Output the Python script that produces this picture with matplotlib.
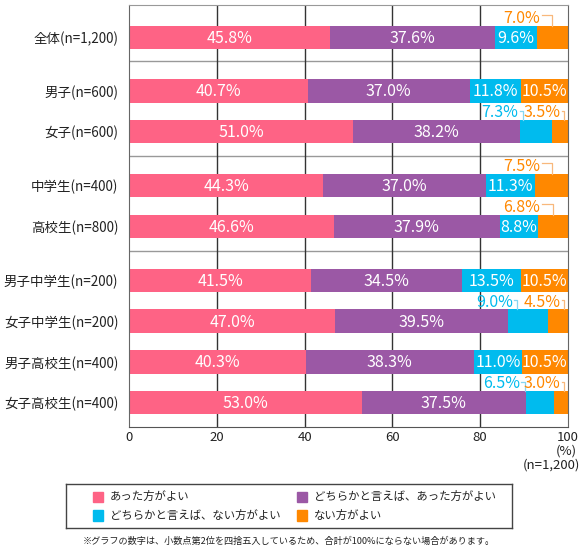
import matplotlib.pyplot as plt
import numpy as np
from matplotlib.patches import Rectangle

plt.rcParams['font.family'] = ['Noto Sans CJK JP', 'DejaVu Sans']

# Data
categories = ['全体(n=1,200)', '男子(n=600)', '女子(n=600)', '中学生(n=400)', '高校生(n=800)',
              '男子中学生(n=200)', '女子中学生(n=200)', '男子高校生(n=400)', '女子高校生(n=400)']
groups = [0, 1, 1, 2, 2, 3, 3, 3, 3]
series_names = ['あった方がよい', 'どちらかと言えば、あった方がよい',
                'どちらかと言えば、ない方がよい', 'ない方がよい']
atta = [45.8, 40.7, 51.0, 44.3, 46.6, 41.5, 47.0, 40.3, 53.0]
dochira_atta = [37.6, 37.0, 38.2, 37.0, 37.9, 34.5, 39.5, 38.3, 37.5]
dochira_nai = [9.6, 11.8, 7.3, 11.3, 8.8, 13.5, 9.0, 11.0, 6.5]
nai = [7.0, 10.5, 3.5, 7.5, 6.8, 10.5, 4.5, 10.5, 3.0]
ticks = [0, 20, 40, 60, 80, 100]

colors = ['#fe6385', '#9b58a5', '#00bbee', '#ff8800']
light = {2: '#86d6f2', 3: '#f8b87c'}

# y positions in pixel-like units: 41 within a group, 54 between groups
ypos = []
y = 0
for i, g in enumerate(groups):
    if i > 0:
        y += 41 if g == groups[i - 1] else 54
    ypos.append(y)
ypos = np.array(ypos, dtype=float)
bar_h = 23.3
px = 100 / 438.2  # one pixel in x data units

fig = plt.figure(figsize=(5.84, 5.5), dpi=100)
ax = fig.add_axes([129.3 / 584, 1 - 426.7 / 550, 438.2 / 584, 421.7 / 550])

values = [atta, dochira_atta, dochira_nai, nai]
left = np.zeros(len(categories))
for k, vals in enumerate(values):
    vals = np.array(vals)
    ax.barh(ypos, vals, left=left, height=bar_h, color=colors[k], zorder=2)
    left += vals

# value labels
for i in range(len(categories)):
    starts = np.cumsum([0] + [v[i] for v in values])
    top = ypos[i] - bar_h / 2
    orange_out = nai[i] < 10
    cyan_out = nai[i] < 5
    for k in range(4):
        v = values[k][i]
        lab = f'{v:.1f}%'
        if (k == 3 and orange_out) or (k == 2 and cyan_out):
            continue
        ax.text(starts[k] + v / 2, ypos[i] + 1, lab, ha='center', va='center',
                color='white', fontsize=11.5, zorder=4)
    if orange_out:
        if cyan_out:
            bx = 99.3
            tx = 98.4
            ly = top - 9.3
        else:
            bx = starts[3] + nai[i] / 2
            tx = 93.8
            ly = top - 10.7
        ax.text(tx, top - 3, f'{nai[i]:.1f}%', ha='right', va='baseline',
                color=colors[3], fontsize=11.5, zorder=4)
        ax.plot([tx + 0.3, bx, bx], [ly, ly, top], color=light[3], lw=0.9, zorder=3,
                clip_on=False)
    if cyan_out:
        bx = min(max(starts[2] + 0.6, 88.5), 90.2)
        tx = bx - 1.0
        ly = top - 9.3
        ax.text(tx, top - 3, f'{dochira_nai[i]:.1f}%', ha='right', va='baseline',
                color=colors[2], fontsize=11.5, zorder=4)
        ax.plot([tx + 0.3, bx, bx], [ly, ly, top], color=light[2], lw=0.9, zorder=3)

# group separators
for i in range(1, len(groups)):
    if groups[i] != groups[i - 1]:
        ax.axhline(ypos[i - 1] + 24.3, color='#999999', lw=1, zorder=1)

for t in ticks[1:-1]:
    ax.axvline(t, color='#333333', lw=1, zorder=1)

ax.set_xlim(0, 100)
ax.set_ylim(ypos[-1] + 24, ypos[0] - 32.3)
ax.set_xticks(ticks)
ax.set_xticklabels([str(t) for t in ticks], fontsize=9.5, color='#222222')
ax.set_yticks(ypos)
ax.set_yticklabels(categories, fontsize=9.7, color='#222222')
ax.tick_params(axis='both', length=0)
ax.tick_params(axis='x', pad=3)
ax.tick_params(axis='y', pad=7.8)
ax.spines['left'].set_color('#666666')
ax.spines['bottom'].set_color('#555555')
ax.spines['top'].set_color('#999999')
ax.spines['right'].set_color('#666666')

fig.text(576.7 / 584, 1 - 450.7 / 550, '(%)', ha='right', va='center', fontsize=9.5, color='#222222')
fig.text(580 / 584, 1 - 465 / 550, '(n=1,200)', ha='right', va='center', fontsize=9.5, color='#222222')

# legend box
lax = fig.add_axes([66 / 584, 1 - 528.3 / 550, 445.7 / 584, 44.3 / 550])
lax.set_xlim(66, 511.7)
lax.set_ylim(528.3, 484)
lax.set_xticks([])
lax.set_yticks([])
for s in lax.spines.values():
    s.set_color('#444444')
    s.set_linewidth(1)
col_x = [92.7, 296.7]
row_y = [496.7, 515.5]
for k, name in enumerate(series_names):
    cx = col_x[k % 2]
    ry = row_y[k // 2]
    lax.add_patch(Rectangle((cx, ry - 5.2), 10, 10.4, color=colors[k]))
    lax.text(cx + 17.5, ry, name, ha='left', va='center', fontsize=8.2, color='#222222')

fig.text(288.5 / 584, 1 - 541 / 550,
         '※グラフの数字は、小数点第2位を四捨五入しているため、合計が100%にならない場合があります。',
         ha='center', va='center', fontsize=6.6, color='#222222')

fig.savefig('out.png', dpi=100)
